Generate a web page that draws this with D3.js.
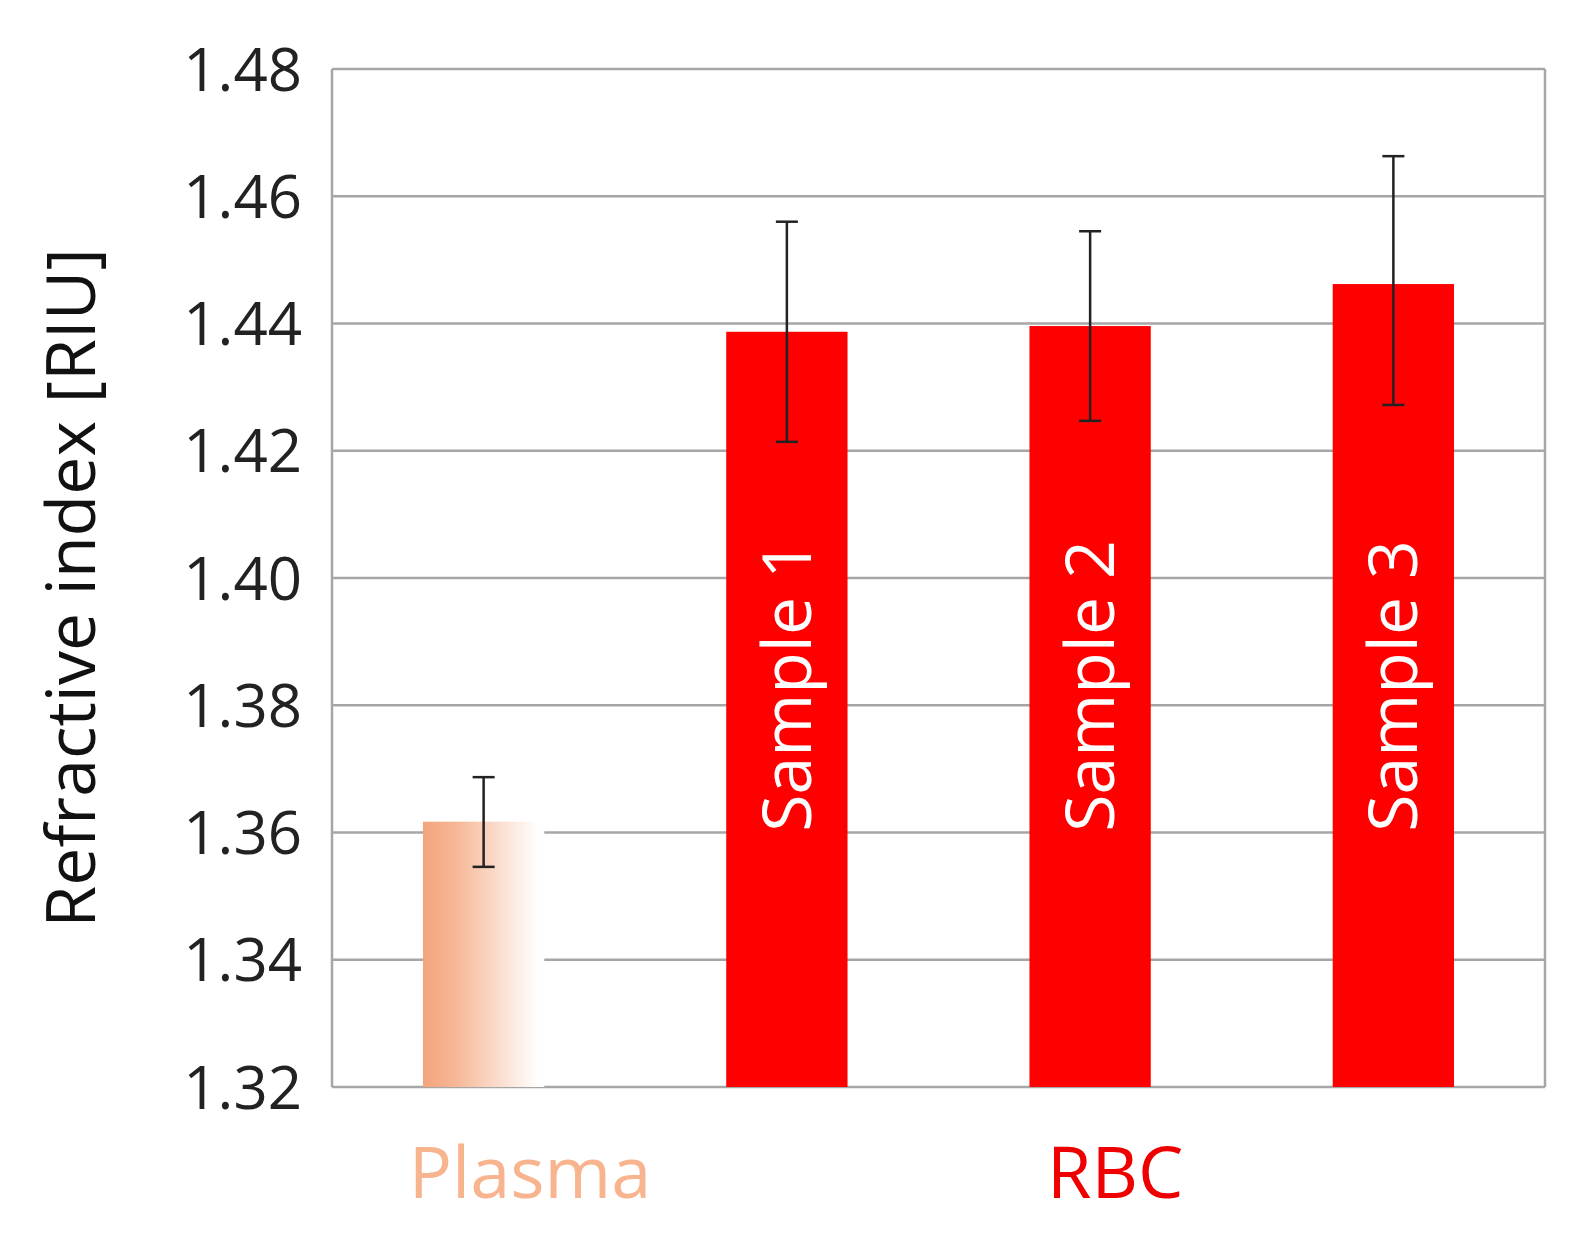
<!DOCTYPE html>
<html><head><meta charset="utf-8">
<script src="https://cdn.jsdelivr.net/npm/d3@7"></script>
<style>html,body{margin:0;background:#fff;overflow:hidden}svg{display:block}</style></head>
<body><svg id="c" width="1586" height="1244"></svg>
<script>
const categories = ["Plasma","Sample 1","Sample 2","Sample 3"];
const values = [1.3617, 1.4387, 1.4396, 1.4462];
const errLow = [1.3546, 1.4214, 1.4247, 1.4272];
const errHigh = [1.3687, 1.4560, 1.4545, 1.4663];
const yTicks = [1.32,1.34,1.36,1.38,1.40,1.42,1.44,1.46,1.48];
const groupLabels = [{text:"Plasma", cats:["Plasma"], color:"#f8b48f"},{text:"RBC", cats:["Sample 1","Sample 2","Sample 3"], color:"#ee0000"}];

const svg = d3.select("#c");
const L=332,R=1545,T=69,B=1087;
const x = d3.scaleBand().domain(categories).range([L,R]).paddingInner(0.6).paddingOuter(0.3);
const y = d3.scaleLinear().domain([1.32,1.48]).range([B,T]);
const font = "'Open Sans', 'Liberation Sans', sans-serif";

const defs = svg.append("defs");
const g = defs.append("linearGradient").attr("id","pg").attr("x1","0").attr("x2","1");
g.append("stop").attr("offset","0").attr("stop-color","#f4a47c");
g.append("stop").attr("offset","0.25").attr("stop-color","#f6b594");
g.append("stop").attr("offset","0.95").attr("stop-color","#ffffff");

svg.append("g").selectAll("line").data(yTicks).join("line")
 .attr("x1",L).attr("x2",R).attr("y1",d=>y(d)).attr("y2",d=>y(d))
 .attr("stroke","#a6a6a6").attr("stroke-width",2.5);
svg.append("line").attr("x1",L).attr("x2",L).attr("y1",T).attr("y2",B).attr("stroke","#a6a6a6").attr("stroke-width",2.5);
svg.append("line").attr("x1",R).attr("x2",R).attr("y1",T).attr("y2",B).attr("stroke","#a6a6a6").attr("stroke-width",2.5);

svg.append("g").selectAll("text").data(yTicks).join("text")
 .attr("x",302).attr("y",d=>y(d)).attr("dy","0.36em").attr("text-anchor","end")
 .attr("font-family",font).attr("font-size",60).attr("fill","#222").text(d=>d.toFixed(2));

svg.append("text").attr("transform",`translate(95,${(T+B)/2+10}) rotate(-90)`).attr("text-anchor","middle")
 .attr("font-family",font).attr("font-size",68).attr("fill","#111").text("Refractive index [RIU]");

svg.append("g").selectAll("rect").data(categories).join("rect")
 .attr("x",d=>x(d)).attr("width",x.bandwidth()).attr("y",(d,i)=>y(values[i])).attr("height",(d,i)=>B-y(values[i]))
 .attr("fill",(d,i)=>i===0?"url(#pg)":"#ff0000");

svg.append("g").selectAll("text").data(categories.slice(1)).join("text")
 .attr("transform",d=>`translate(${x(d)+x.bandwidth()/2+24},${y(1.40)+108}) rotate(-90)`)
 .attr("text-anchor","middle").attr("font-family",font).attr("font-size",68).attr("fill","#fff").text(d=>d);

const eb = svg.append("g").attr("stroke","#222").attr("stroke-width",2.5);
categories.forEach((c,i)=>{
 const cx = x(c)+x.bandwidth()/2;
 eb.append("line").attr("x1",cx).attr("x2",cx).attr("y1",y(errLow[i])).attr("y2",y(errHigh[i]));
 [errLow[i],errHigh[i]].forEach(v=>eb.append("line").attr("x1",cx-11).attr("x2",cx+11).attr("y1",y(v)).attr("y2",y(v)));
});

groupLabels.forEach(gl=>{
 const xs = gl.cats.map(c=>x(c)+x.bandwidth()/2);
 const cx = gl.text==="Plasma" ? 530 : (d3.min(xs)+d3.max(xs))/2+25;
 svg.append("text").attr("x",cx).attr("y",1198).attr("text-anchor","middle")
  .attr("font-family",font).attr("font-size",72).attr("fill",gl.color).text(gl.text);
});
</script></body></html>
